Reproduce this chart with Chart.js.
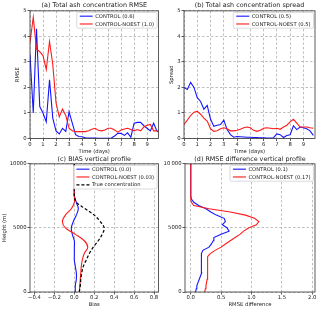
<!DOCTYPE html>
<html><head><meta charset="utf-8">
<script src="https://cdn.jsdelivr.net/npm/chart.js@4.4.1/dist/chart.umd.min.js"></script>
<style>
html,body{margin:0;padding:0;background:#fff;}
#wrap{position:relative;width:320px;height:310px;overflow:hidden;}
canvas{position:absolute;}
</style></head><body>
<div id="wrap">
<canvas id="ca" width="160" height="155" style="left:0;top:0"></canvas>
<canvas id="cb" width="160" height="155" style="left:160px;top:0"></canvas>
<canvas id="cc" width="160" height="155" style="left:0;top:155px"></canvas>
<canvas id="cd" width="160" height="155" style="left:160px;top:155px"></canvas>
</div>
<script>
// ---------- data ----------
const timeDays = [0,0.25,0.5,0.75,1,1.25,1.5,1.75,2,2.25,2.5,2.75,3,3.25,3.5,3.75,4,4.25,4.5,4.75,5,5.25,5.5,5.75,6,6.25,6.5,6.75,7,7.25,7.5,7.75,8,8.25,8.5,8.75,9,9.25,9.5,9.75,9.875];
const rmseControl = [3.3,1.0,4.3,1.25,1.0,0.65,2.3,0.8,0.3,0.18,0.4,0.28,1.05,0.6,0.15,0.08,0.07,0.03,0.02,0.02,0.02,0.01,0.01,0.01,0.01,0.02,0.1,0.2,0.2,0.12,0.22,0.05,0.6,0.63,0.63,0.5,0.4,0.3,0.6,0.3,0.25];
const rmseNoest = [3.75,4.75,3.5,3.4,3.25,2.7,3.8,2.9,1.4,0.85,1.15,0.9,0.4,0.3,0.27,0.27,0.27,0.27,0.3,0.36,0.4,0.32,0.3,0.33,0.4,0.4,0.33,0.25,0.33,0.37,0.4,0.35,0.3,0.35,0.3,0.45,0.52,0.55,0.3,0.3,0.28];
const spreadControl = [2.0,1.92,2.2,2.0,1.6,1.45,1.15,1.3,0.75,0.48,0.52,0.55,0.72,0.35,0.15,0.05,0.08,0.07,0.06,0.05,0.05,0.04,0.04,0.03,0.03,0.02,0.02,0.03,0.18,0.15,0.04,0.12,0.15,0.5,0.35,0.45,0.42,0.38,0.3,0.12];
const spreadNoest = [0.55,0.72,0.9,1.03,1.06,0.95,0.8,0.68,0.38,0.28,0.3,0.38,0.42,0.38,0.3,0.3,0.32,0.36,0.42,0.45,0.42,0.32,0.28,0.32,0.4,0.42,0.4,0.38,0.4,0.36,0.45,0.52,0.65,0.75,0.6,0.45,0.45,0.45,0.42,0.4];

const heightsBias = [0,500,1000,1500,2000,2500,3000,3500,4000,4500,5000,5500,6000,6500,7000,7500,8000,8500,9000,9500,10000];
const biasControl = [0.01,0.01,0.02,0.02,0.01,0.0,0.0,0.0,0.0,-0.02,-0.03,-0.01,0.02,0.04,0.02,0,0,0,0,0,0];
const biasNoest = [0.05,0.055,0.06,0.065,0.07,0.08,0.1,0.135,0.1,0.01,-0.09,-0.12,-0.09,-0.03,0.0,0,0,0,0,0,0];
const trueConc = [0.05,0.06,0.065,0.075,0.09,0.12,0.15,0.19,0.24,0.28,0.3,0.26,0.2,0.11,0.02,0,0,0,0,0,0];

const heightsDiff = [0,250,500,750,1000,1250,1500,1750,2000,2250,2500,2750,3000,3250,3500,3750,4000,4250,4500,4750,5000,5250,5500,5750,6000,6250,6500,6750,7000,7250,7500,7750,8000,8250,8500,8750,9000,9250,9500,9750,10000];
const diffControl = [0.08,0.09,0.1,0.12,0.14,0.16,0.18,0.18,0.17,0.17,0.17,0.18,0.18,0.2,0.3,0.34,0.37,0.38,0.5,0.63,0.6,0.52,0.57,0.55,0.42,0.33,0.25,0.13,0.05,0.01,0,0,0,0,0,0,0,0,0,0,0];
const diffNoest = [0.23,0.24,0.25,0.26,0.27,0.28,0.28,0.28,0.28,0.27,0.27,0.28,0.32,0.4,0.5,0.57,0.65,0.73,0.81,0.87,0.95,1.08,1.12,1.05,0.9,0.65,0.3,0.05,0.01,0,0,0,0,0,0,0,0,0,0,0,0];

// ---------- ticks ----------
const timeTicks = [0,1,2,3,4,5,6,7,8,9];
const timeTickLabels = ['0','1','2','3','4','5','6','7','8','9'];
const rmseTicks = [0,1,2,3,4,5];
const rmseTickLabels = ['0','1','2','3','4','5'];
const biasTicks = [-0.4,-0.2,0,0.2,0.4,0.6,0.8];
const biasTickLabels = ['\u22120.4','\u22120.2','0.0','0.2','0.4','0.6','0.8'];
const diffTicks = [0,0.5,1,1.5,2];
const diffTickLabels = ['0.0','0.5','1.0','1.5','2.0'];
const heightTicks = [0,5000,10000];
const heightTickLabelsC = ['0','5000','10000'];
const heightTickLabelsD = ['0','5000','10\u2009000'];

// ---------- styling ----------
const FONT = '"DejaVu Sans", sans-serif';
const TXT = '#1a1a1a';
const BLUE = '#1515ff';
const RED = '#ff1a1a';

const framePlugin = {
  id: 'frame',
  afterDatasetsDraw(chart) {
    const {ctx, chartArea: a} = chart;
    ctx.save();
    ctx.strokeStyle = '#333';
    ctx.lineWidth = 0.8;
    ctx.strokeRect(a.left, a.top, a.right - a.left, a.bottom - a.top);
    ctx.restore();
  }
};

const legendPlugin = {
  id: 'insideLegend',
  afterDraw(chart) {
    const {ctx, chartArea: a} = chart;
    const ds = chart.data.datasets;
    ctx.save();
    ctx.font = '5.2px ' + FONT;
    const rowH = 7.8, padX = 3, sample = 13, gap = 2.5, topPad = 3.8, botPad = 4.2;
    const tw = Math.max(...ds.map(d => ctx.measureText(d.label).width));
    const w = padX + sample + gap + tw + padX;
    const h = topPad + rowH * (ds.length - 1) + botPad;
    const x = a.right - 1.5 - w, y = a.top + 1.5;
    ctx.beginPath();
    if (ctx.roundRect) ctx.roundRect(x, y, w, h, 1.5); else ctx.rect(x, y, w, h);
    ctx.fillStyle = 'rgba(255,255,255,0.85)';
    ctx.fill();
    ctx.strokeStyle = '#d0d0d0';
    ctx.lineWidth = 0.8;
    ctx.stroke();
    ds.forEach((d, i) => {
      const cy = y + topPad + rowH * i;
      ctx.beginPath();
      ctx.strokeStyle = d.borderColor;
      ctx.lineWidth = d.borderWidth;
      ctx.setLineDash(d.borderDash || []);
      ctx.moveTo(x + padX, cy);
      ctx.lineTo(x + padX + sample, cy);
      ctx.stroke();
      ctx.setLineDash([]);
      ctx.fillStyle = TXT;
      ctx.textBaseline = 'middle';
      ctx.textAlign = 'left';
      ctx.fillText(d.label, x + padX + sample + gap, cy + 0.3);
    });
    ctx.restore();
  }
};

function axisFont() { return {family: FONT, size: 5.3}; }

function panel(id, cfg) {
  const datasets = cfg.series.map((s, i) => ({
    label: s.label,
    data: s.xs.map((xv, k) => ({x: xv, y: s.ys[k]})),
    borderColor: s.color,
    backgroundColor: s.color,
    borderWidth: s.width || 1.1,
    borderDash: s.dash || [],
    pointRadius: 0,
    showLine: true,
    fill: false,
    tension: cfg.tension || 0,
    order: cfg.series.length - i
  }));
  const mkScale = (ax, isX) => ({
    type: 'linear',
    min: ax.min, max: ax.max,
    bounds: 'data',
    afterBuildTicks: s => { s.ticks = ax.ticks.map(v => ({value: v})); },
    afterFit: s => { if (isX) s.height = ax.size; else s.width = ax.size; },
    ticks: {
      autoSkip: false, maxRotation: 0, padding: ax.tickPad,
      font: axisFont(), color: TXT,
      callback: (v, i) => ax.labels[i]
    },
    grid: {
      color: '#b8b8b8', lineWidth: 0.9,
      tickColor: '#333', tickLength: 2.5, tickWidth: 0.8, tickBorderDash: []
    },
    border: {display: false, dash: [2.5, 2]},
    title: ax.title ? {
      display: true, text: ax.title, color: TXT, font: axisFont(),
      padding: ax.titlePad
    } : {display: false}
  });
  return new Chart(document.getElementById(id), {
    type: 'scatter',
    data: {datasets},
    options: {
      responsive: false, animation: false, devicePixelRatio: 1,
      layout: {padding: {left: 0, right: cfg.padRight, top: 0, bottom: 0}},
      plugins: {
        legend: {display: false},
        tooltip: {enabled: false},
        title: {
          display: true, text: cfg.title, fullSize: false, color: TXT,
          font: {family: FONT, size: 6.4, weight: 'normal'},
          padding: cfg.titlePad
        }
      },
      scales: {x: mkScale(cfg.x, true), y: mkScale(cfg.y, false)}
    },
    plugins: [framePlugin, legendPlugin]
  });
}

panel('ca', {
  title: '(a) Total ash concentration RMSE',
  titlePad: {top: 1.4, bottom: 1.8}, padRight: 1.5,
  series: [
    {label: 'CONTROL (0.6)', xs: timeDays, ys: rmseControl, color: BLUE},
    {label: 'CONTROL-NOEST (1.0)', xs: timeDays, ys: rmseNoest, color: RED}
  ],
  x: {min: 0, max: 9.875, ticks: timeTicks, labels: timeTickLabels, title: 'Time (days)', size: 16.5, tickPad: 0, titlePad: {top: 0, bottom: 0}},
  y: {min: 0, max: 5, ticks: rmseTicks, labels: rmseTickLabels, title: 'RMSE', size: 30, tickPad: 1, titlePad: {top: 14.8, bottom: 0}}
});

panel('cb', {
  title: '(b) Total ash concentration spread',
  titlePad: {top: 1.4, bottom: 1.8}, padRight: 5,
  series: [
    {label: 'CONTROL (0.5)', xs: timeDays.slice(0, spreadControl.length), ys: spreadControl, color: BLUE},
    {label: 'CONTROL-NOEST (0.5)', xs: timeDays.slice(0, spreadNoest.length), ys: spreadNoest, color: RED}
  ],
  x: {min: 0, max: 9.875, ticks: timeTicks, labels: timeTickLabels, title: 'Time (days)', size: 16.5, tickPad: 0, titlePad: {top: 0, bottom: 0}},
  y: {min: 0, max: 5, ticks: rmseTicks, labels: rmseTickLabels, title: 'Spread', size: 24, tickPad: 1, titlePad: {top: 8.8, bottom: 0}}
});

panel('cc', {
  title: '(c) BIAS vertical profile',
  titlePad: {top: 0.1, bottom: 1.1}, padRight: 1.5, tension: 0.35,
  series: [
    {label: 'CONTROL (0.0)', xs: biasControl, ys: heightsBias, color: BLUE},
    {label: 'CONTROL-NOEST (0.03)', xs: biasNoest, ys: heightsBias, color: RED},
    {label: 'True concentration', xs: trueConc, ys: heightsBias, color: '#000', dash: [3, 2], width: 1.2}
  ],
  x: {min: -0.445, max: 0.845, ticks: biasTicks, labels: biasTickLabels, title: 'Bias', size: 18, tickPad: 0, titlePad: {top: 0, bottom: 2.5}},
  y: {min: 0, max: 10000, ticks: heightTicks, labels: heightTickLabelsC, title: 'Height (m)', size: 30, tickPad: 1, titlePad: {top: 1.8, bottom: 0}}
});

panel('cd', {
  title: '(d) RMSE difference vertical profile',
  titlePad: {top: 0.1, bottom: 1.1}, padRight: 5,
  series: [
    {label: 'CONTROL (0.1)', xs: diffControl, ys: heightsDiff, color: BLUE},
    {label: 'CONTROL-NOEST (0.17)', xs: diffNoest, ys: heightsDiff, color: RED}
  ],
  x: {min: -0.095, max: 2.045, ticks: diffTicks, labels: diffTickLabels, title: 'RMSE difference', size: 18, tickPad: 0, titlePad: {top: 0, bottom: 2.5}},
  y: {min: 0, max: 10000, ticks: heightTicks, labels: heightTickLabelsD, title: '', size: 25, tickPad: 1}
});
</script>
</body></html>
